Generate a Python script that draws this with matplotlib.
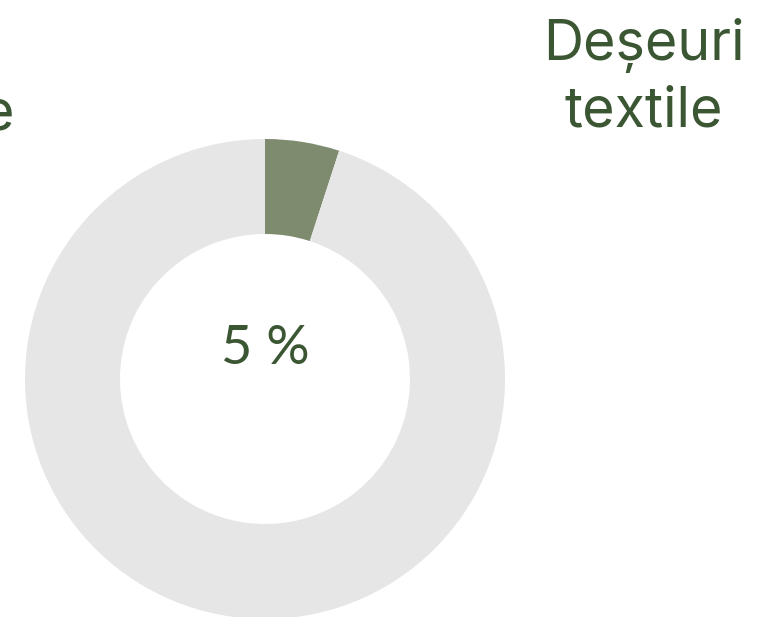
import matplotlib.pyplot as plt

# valori din grafic
categorii = ['Deșeuri textile', 'Restul']
valori = [5, 95]
eticheta_centru = '5 %'
titlu = 'Deșeuri\ntextile'

culori = ['#7f8b6f', '#e6e6e6']
verde = '#3b5632'

W, H = 761, 617
fig = plt.figure(figsize=(W / 100, H / 100), dpi=100)
ax = fig.add_axes([0, 0, 1, 1])
ax.set_xlim(0, W)
ax.set_ylim(0, H)
ax.set_aspect('equal')
ax.axis('off')

cx, cy = 265, H - 379
ax.pie(valori, colors=culori, startangle=90, counterclock=False,
       center=(cx, cy), radius=240,
       wedgeprops=dict(width=95, edgecolor='none'))
ax.set_xlim(0, W)
ax.set_ylim(0, H)

ax.text(cx, H - 348, eticheta_centru, ha='center', va='center',
        fontsize=39, color=verde, family=['Lato', 'DejaVu Sans'])
ax.text(644, H - 78, titlu, ha='center', va='center', linespacing=1.3,
        fontsize=40, color=verde, family=['Inter', 'DejaVu Sans'])
# eticheta tăiată din stânga
ax.text(14, H - 130, 'e', ha='right', va='baseline',
        fontsize=40, color=verde, family=['Inter', 'DejaVu Sans'])

fig.savefig('out.png', dpi=100)
